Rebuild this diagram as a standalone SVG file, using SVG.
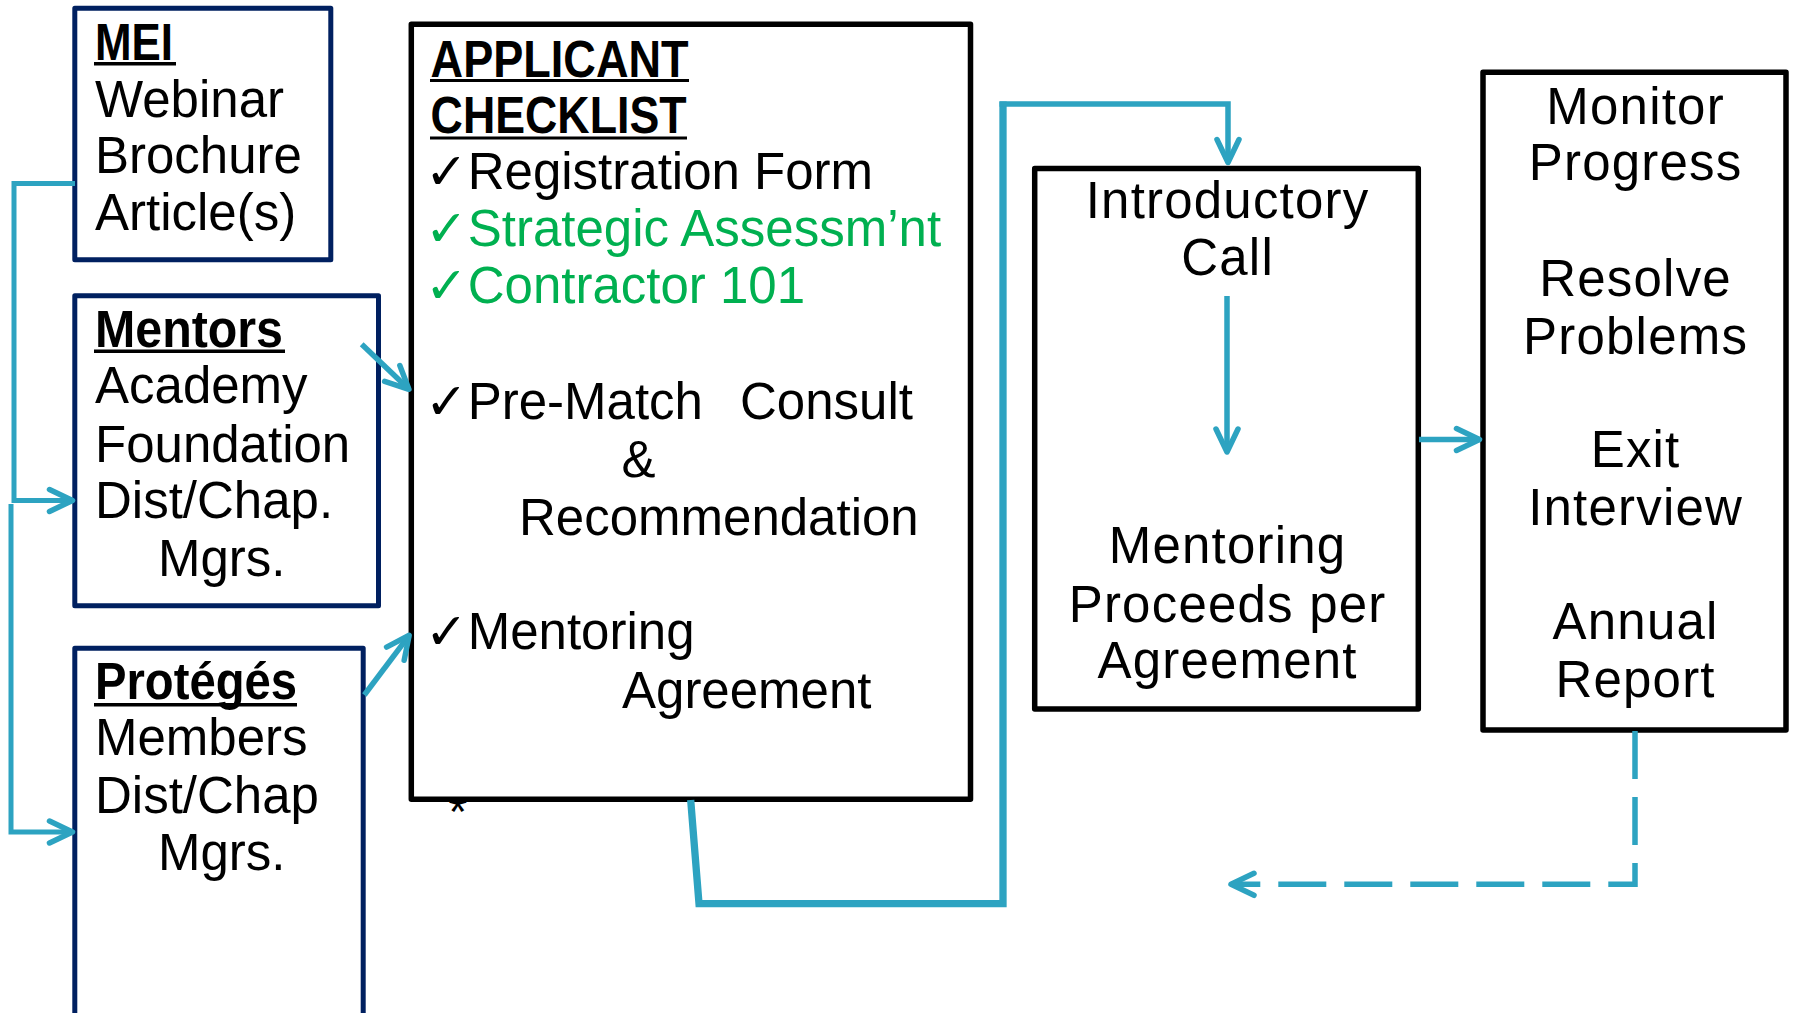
<svg xmlns="http://www.w3.org/2000/svg" width="1793" height="1013" viewBox="0 0 1793 1013">
  <defs>
    <style>
      .t { font-family: "Liberation Sans", "DejaVu Sans", Arial, sans-serif; font-size: 51px; fill: #000; }
      .b { font-weight: bold; }
      .g { fill: #00B050; }
      .c { text-anchor: middle; letter-spacing: 1.2px; }
      .navy { fill: #fff; stroke: #002060; stroke-width: 5; stroke-linejoin: round; }
      .blk { fill: #fff; stroke: #000; stroke-width: 5.5; stroke-linejoin: round; }
      .ul { fill: #000; }
      .con { fill: none; stroke: #2DA3C1; stroke-width: 5.5; stroke-linejoin: miter; }
    </style>
    <marker id="arr" markerUnits="userSpaceOnUse" orient="auto" overflow="visible" markerWidth="1" markerHeight="1" refX="0" refY="0">
      <path d="M -23 -11 L 0 0 L -23 11" fill="none" stroke="#2DA3C1" stroke-width="5.5" stroke-linecap="round" stroke-linejoin="round"/>
    </marker>
  </defs>

  <rect width="1793" height="1013" fill="#fff"/>

  <!-- Sources: MEI -->
  <g id="mei">
    <rect class="navy" x="74.8" y="8.2" width="256" height="251.6"/>
    <text class="t b" x="95" y="60" textLength="78" lengthAdjust="spacingAndGlyphs">MEI</text>
    <rect class="ul" x="94" y="62" width="82" height="3.5"/>
    <text class="t" x="95" y="117">Webinar</text>
    <text class="t" x="95" y="173">Brochure</text>
    <text class="t" x="95" y="230">Article(s)</text>
  </g>

  <!-- Sources: Mentors -->
  <g id="mentors">
    <rect class="navy" x="74.8" y="295.8" width="303.7" height="310"/>
    <text class="t b" x="95" y="347" textLength="188" lengthAdjust="spacingAndGlyphs">Mentors</text>
    <rect class="ul" x="94" y="349.5" width="191" height="3.5"/>
    <text class="t" x="95" y="403">Academy</text>
    <text class="t" x="95" y="462">Foundation</text>
    <text class="t" x="95" y="518">Dist/Chap.</text>
    <text class="t" x="158" y="576">Mgrs.</text>
  </g>

  <!-- Sources: Protégés -->
  <g id="proteges">
    <rect class="navy" x="74.8" y="648.2" width="288.4" height="420"/>
    <text class="t b" x="95" y="699" textLength="202" lengthAdjust="spacingAndGlyphs">Protégés</text>
    <rect class="ul" x="94" y="703" width="203" height="3.5"/>
    <text class="t" x="95" y="755">Members</text>
    <text class="t" x="95" y="813">Dist/Chap</text>
    <text class="t" x="158" y="870">Mgrs.</text>
  </g>

  <!-- Applicant checklist -->
  <g id="checklist">
    <text class="t" x="448.5" y="828" style="font-size:48px">*</text>
    <rect class="blk" x="411.3" y="24.2" width="559.2" height="775.1"/>
    <text class="t b" x="430.6" y="76.7" textLength="258" lengthAdjust="spacingAndGlyphs">APPLICANT</text>
    <rect class="ul" x="430" y="79" width="259" height="3"/>
    <text class="t b" x="430.6" y="133.3" textLength="256" lengthAdjust="spacingAndGlyphs">CHECKLIST</text>
    <rect class="ul" x="430" y="136.5" width="257" height="3"/>

    <text class="t" x="425" y="189">✓Registration Form</text>
    <text class="t g" x="425" y="246.3">✓Strategic Assessm’nt</text>
    <text class="t g" x="425" y="303.3">✓Contractor 101</text>

    <text class="t" x="425" y="419">✓Pre-Match<tspan x="740">Consult</tspan></text>
    <text class="t" x="621.5" y="476.7">&amp;</text>
    <text class="t" x="519" y="535">Recommendation</text>

    <text class="t" x="425" y="649">✓Mentoring</text>
    <text class="t" x="622" y="708.3">Agreement</text>
  </g>

  <!-- Introductory call / mentoring -->
  <g id="intro">
    <rect class="blk" x="1034.7" y="168.6" width="383.6" height="540.4"/>
    <text class="t c" x="1227.6" y="218">Introductory</text>
    <text class="t c" x="1227.6" y="274.7">Call</text>
    <text class="t c" x="1227.6" y="563">Mentoring</text>
    <text class="t c" x="1227.6" y="621.6">Proceeds per</text>
    <text class="t c" x="1227.6" y="678">Agreement</text>
  </g>

  <!-- Follow-up -->
  <g id="monitor">
    <rect class="blk" x="1483" y="72.3" width="303" height="657.7"/>
    <text class="t c" x="1635.6" y="123.7">Monitor</text>
    <text class="t c" x="1635.6" y="179.5">Progress</text>
    <text class="t c" x="1635.6" y="295.5">Resolve</text>
    <text class="t c" x="1635.6" y="353.6">Problems</text>
    <text class="t c" x="1635.6" y="467.4">Exit</text>
    <text class="t c" x="1635.6" y="525.4">Interview</text>
    <text class="t c" x="1635.6" y="639">Annual</text>
    <text class="t c" x="1635.6" y="697.3">Report</text>
  </g>

  <!-- Connectors -->
  <g id="connectors">
    <path class="con" style="stroke-width:5" d="M 75 183.5 H 14 V 500.5 H 72.5" marker-end="url(#arr)"/>
    <path class="con" style="stroke-width:5" d="M 11 504 V 832 H 72.5" marker-end="url(#arr)"/>
    <path class="con" d="M 361.7 344.3 L 408.9 389.3" marker-end="url(#arr)"/>
    <path class="con" d="M 364.3 695 L 409.2 635.3" marker-end="url(#arr)"/>
    <path class="con" style="stroke-width:7.3" d="M 690.7 800 L 699 903.6 H 1003 V 101.5"/>
    <path class="con" d="M 999.5 104 H 1228 V 162.5" marker-end="url(#arr)"/>
    <path class="con" d="M 1227 296 V 452" marker-end="url(#arr)"/>
    <path class="con" d="M 1419 439.5 H 1479.5" marker-end="url(#arr)"/>
    <path class="con" style="stroke-dasharray:48 18; stroke-linecap:butt" d="M 1635 731 V 884.3 H 1231" marker-end="url(#arr)"/>
  </g>
</svg>
